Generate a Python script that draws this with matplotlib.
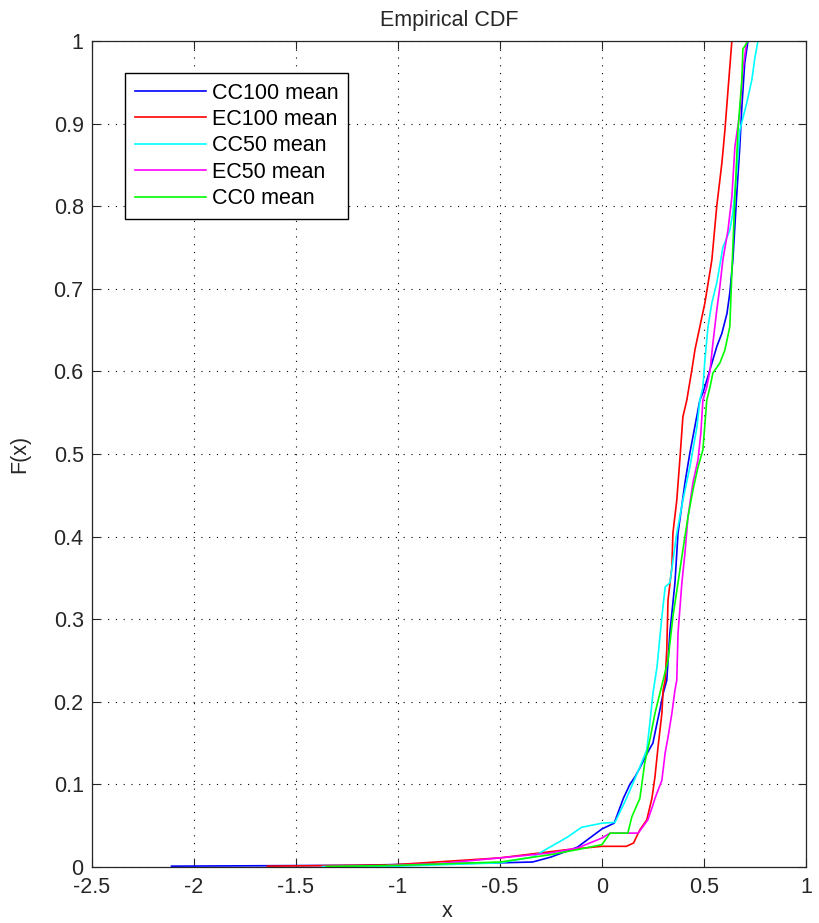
import numpy as np
import matplotlib.pyplot as plt

plt.rcParams['font.family'] = ['Liberation Sans', 'DejaVu Sans']

# values (x, F(x)) per series
cc100_x = [-2.11, -1.2, -1.0, -0.5, -0.34, -0.25, -0.12, 0.0, 0.06, 0.09, 0.105, 0.137, 0.162, 0.186,
           0.225, 0.25, 0.27, 0.284, 0.30, 0.318, 0.333, 0.358, 0.373, 0.407, 0.431, 0.48, 0.495,
           0.52, 0.544, 0.563, 0.588, 0.613, 0.627, 0.642, 0.66, 0.676, 0.686, 0.70, 0.716]
cc100_f = [0.001, 0.002, 0.003, 0.005, 0.006, 0.012, 0.024, 0.046, 0.053, 0.073, 0.083, 0.10, 0.109, 0.12,
           0.139, 0.15, 0.174, 0.19, 0.21, 0.226, 0.283, 0.344, 0.404, 0.465, 0.501, 0.565, 0.574,
           0.594, 0.614, 0.63, 0.646, 0.67, 0.695, 0.735, 0.81, 0.872, 0.92, 0.973, 1.0]

ec100_x = [-1.64, -1.04, -0.5, -0.17, 0.0, 0.12, 0.155, 0.186, 0.22, 0.245, 0.26, 0.275, 0.294,
           0.30, 0.31, 0.318, 0.324, 0.343, 0.348, 0.367, 0.382, 0.397, 0.416, 0.441, 0.456, 0.48,
           0.505, 0.539, 0.563, 0.588, 0.603, 0.618, 0.637]
ec100_f = [0.001, 0.0024, 0.011, 0.021, 0.025, 0.025, 0.029, 0.045, 0.057, 0.083, 0.109, 0.145, 0.186,
           0.214, 0.226, 0.263, 0.323, 0.363, 0.404, 0.444, 0.493, 0.545, 0.565, 0.602, 0.626, 0.654,
           0.683, 0.735, 0.80, 0.852, 0.892, 0.94, 1.0]

cc50_x = [-1.37, -1.0, -0.5, -0.34, -0.255, -0.17, -0.1, 0.0, 0.064, 0.12, 0.186, 0.22, 0.235,
          0.25, 0.26, 0.27, 0.294, 0.31, 0.333, 0.367, 0.397, 0.431, 0.466, 0.48, 0.495, 0.505,
          0.52, 0.539, 0.563, 0.593, 0.627, 0.642, 0.662, 0.676, 0.71, 0.735, 0.75, 0.765]
cc50_f = [0.0005, 0.001, 0.005, 0.012, 0.024, 0.036, 0.048, 0.053, 0.054, 0.083, 0.121, 0.142, 0.174,
          0.21, 0.226, 0.242, 0.303, 0.339, 0.344, 0.404, 0.444, 0.484, 0.533, 0.565, 0.581, 0.614,
          0.654, 0.683, 0.707, 0.75, 0.771, 0.792, 0.844, 0.892, 0.925, 0.953, 0.98, 1.0]

ec50_x = [-1.05, -0.8, -0.5, -0.25, -0.12, 0.0, 0.04, 0.178, 0.225, 0.25, 0.26, 0.294, 0.31,
          0.324, 0.343, 0.358, 0.367, 0.373, 0.392, 0.407, 0.422, 0.446, 0.471, 0.485, 0.495,
          0.514, 0.53, 0.544, 0.563, 0.578, 0.593, 0.618, 0.637, 0.652, 0.676, 0.691, 0.71]
ec50_f = [0.002, 0.004, 0.011, 0.017, 0.023, 0.035, 0.041, 0.041, 0.057, 0.075, 0.083, 0.105, 0.138,
          0.157, 0.186, 0.214, 0.226, 0.283, 0.344, 0.38, 0.424, 0.465, 0.493, 0.525, 0.565,
          0.581, 0.601, 0.634, 0.674, 0.702, 0.735, 0.771, 0.811, 0.872, 0.913, 0.965, 1.0]

cc0_x = [-1.35, -1.0, -0.5, -0.25, -0.12, 0.0, 0.04, 0.127, 0.147, 0.186, 0.21, 0.235, 0.26,
         0.284, 0.30, 0.324, 0.348, 0.373, 0.397, 0.422, 0.446, 0.471, 0.495, 0.514, 0.53, 0.544,
         0.578, 0.603, 0.627, 0.637, 0.652, 0.667, 0.686, 0.691, 0.716]
cc0_f = [0.0005, 0.002, 0.006, 0.015, 0.021, 0.027, 0.041, 0.041, 0.061, 0.083, 0.126, 0.154, 0.186,
         0.21, 0.226, 0.25, 0.303, 0.344, 0.384, 0.424, 0.456, 0.484, 0.505, 0.565, 0.581, 0.598,
         0.61, 0.626, 0.654, 0.72, 0.811, 0.892, 0.953, 0.99, 1.0]

series = [
    (cc100_x, cc100_f, 'CC100 mean', '#0000ff'),
    (ec100_x, ec100_f, 'EC100 mean', '#ff0000'),
    (cc50_x, cc50_f, 'CC50 mean', '#00ffff'),
    (ec50_x, ec50_f, 'EC50 mean', '#ff00ff'),
    (cc0_x, cc0_f, 'CC0 mean', '#00ff00'),
]

fs = 15.5

fig = plt.figure(figsize=(8.19, 9.23), dpi=100)
ax = fig.add_axes([0.1123, 0.0607, 0.8717, 0.8949])

for xs, fv, name, col in series:
    ax.plot(xs, fv, color=col, lw=1.2, label=name)

ax.set_xlim(-2.5, 1)
ax.set_ylim(0, 1)
ax.set_xticks(np.arange(-2.5, 1.01, 0.5))
ax.set_xticklabels(['-2.5', '-2', '-1.5', '-1', '-0.5', '0', '0.5', '1'])
ax.set_yticks(np.arange(0, 1.01, 0.1))
ax.set_yticklabels(['0', '0.1', '0.2', '0.3', '0.4', '0.5', '0.6', '0.7', '0.8', '0.9', '1'])
ax.tick_params(direction='in', top=True, right=True, labelsize=fs, length=6, width=0.8,
               colors='#262626')
ax.tick_params(axis='x', pad=7)
ax.tick_params(axis='y', pad=6)
ax.grid(True, color='black', linestyle=(0, (1, 6)), linewidth=0.8)
for s in ax.spines.values():
    s.set_linewidth(0.9)
    s.set_color('#262626')

ax.set_title('Empirical CDF', fontsize=fs, pad=11, color='#262626')
ax.set_xlabel('x', fontsize=fs, color='#262626')
ax.xaxis.set_label_coords(0.497, -0.041)
ax.set_ylabel('F(x)', fontsize=fs, color='#262626')
ax.yaxis.set_label_coords(-0.087, 0.5)

leg = ax.legend(loc='upper left', bbox_to_anchor=(0.0462, 0.9613), borderaxespad=0,
                fontsize=fs, fancybox=False, framealpha=1, edgecolor='black',
                handlelength=3.3, borderpad=0.45, labelspacing=0.25, handletextpad=0.3)
leg.get_frame().set_linewidth(1.0)

fig.savefig('out.png', dpi=100)
